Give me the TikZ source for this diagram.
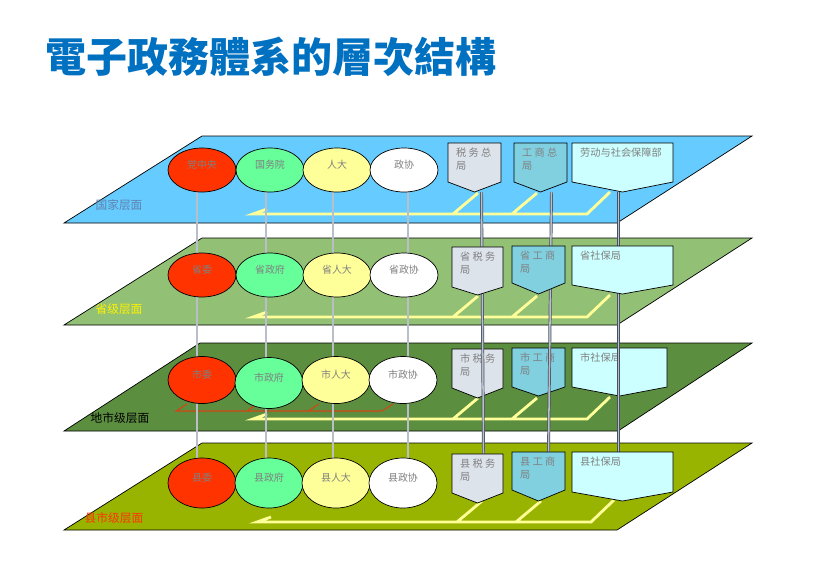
\documentclass[tikz,border=0pt]{standalone}
\usepackage{fontspec}
\newfontfamily\cjk{Noto Sans CJK SC}
\newfontfamily\cjktc{Noto Sans CJK TC}
\usetikzlibrary{shapes.geometric}

\definecolor{plane1}{RGB}{102,204,255}
\definecolor{plane2}{RGB}{146,192,116}
\definecolor{plane3}{RGB}{92,142,64}
\definecolor{plane4}{RGB}{153,180,0}
\definecolor{orgred}{RGB}{255,51,0}
\definecolor{orggreen}{RGB}{102,255,153}
\definecolor{orgyellow}{RGB}{255,255,153}
\definecolor{bur1}{RGB}{221,227,235}
\definecolor{bur2}{RGB}{128,208,224}
\definecolor{bur3}{RGB}{204,255,255}
\definecolor{railyellow}{RGB}{255,255,153}
\definecolor{railred}{RGB}{210,70,20}
\definecolor{titleblue}{RGB}{0,112,192}
\definecolor{txtgray}{RGB}{128,128,128}
\definecolor{pipegray}{RGB}{70,80,100}
\definecolor{pipelight}{RGB}{185,190,200}

\pgfdeclarelayer{back}
\pgfdeclarelayer{mid}
\pgfsetlayers{back,mid,main}

\tikzset{
  plane/.style={draw=black, line width=0.6pt},
  org/.style={ellipse, draw=black, line width=0.6pt, minimum width=2.04cm,
    minimum height=1.32cm, inner sep=0pt, text=txtgray,
    font=\cjk\fontsize{8.5}{10}\selectfont, text height=0.8em, text depth=1.1em},
  burline/.style={draw=black, line width=0.6pt},
  burtxt/.style={anchor=north west, inner sep=0pt, align=left, text=txtgray,
    font=\cjk\fontsize{8.7}{11}\selectfont},
  pipe/.style={draw=pipegray, line width=0.6pt, double=pipelight, double distance=1.3pt},
  rail/.style={draw=railyellow, line width=2.4pt},
  redrail/.style={draw=railred, line width=0.9pt},
  level/.style={inner sep=0pt, font=\cjk\fontsize{10}{12}\selectfont},
}

% bureau box: name, left, right, top, side, tip, fill, text
\newcommand\bureau[8]{%
  \draw[burline, fill=#7] (#2,#4) coordinate (#1-nw) -- (#3,#4) -- (#3,#5)
    -- ({(#2+#3)/2},#6) coordinate (#1) -- (#2,#5) -- cycle;
  \coordinate (#1-n) at ({(#2+#3)/2},#4);
  \node[burtxt] (#1-t) at ([shift={(8,5)}]#1-nw) {#8};
}

\begin{document}
\begin{tikzpicture}[x=0.03cm, y=-0.03cm]
  \useasboundingbox (0,0) rectangle (824,579);

  % title
  \node[anchor=west, inner sep=0pt, text=titleblue,
    font=\cjktc\bfseries\fontsize{35}{40}\selectfont] (title) at (45,57) {電子政務體系的層次結構};

  \begin{pgfonlayer}{back}
    \fill[white] (0,0) rectangle (824,579);
    \draw[plane, fill=plane1] (202,136) -- (752,136) -- (617,223) -- (64,223) -- cycle;
    \draw[plane, fill=plane2] (202,238) -- (752,238) -- (617,325) -- (64,325) -- cycle;
    \draw[plane, fill=plane3] (200,343) -- (752,343) -- (618,431) -- (64,431) -- cycle;
    \draw[plane, fill=plane4] (202,443) -- (752,443) -- (617,530) -- (64,530) -- cycle;

    % rails
    \foreach \y/\dx in {214/0, 317/0, 419/0, 522/4}
      \draw[rail, xshift=\dx*0.03cm] (267,\y-5) -- (253,\y) -- (587,\y) -- (610,\y-22)
        (453,\y) -- (478,\y-21) (512,\y) -- (537,\y-21);
    \draw[redrail] (187,404) -- (176,411) -- (382,411) -- (393,404)
      (247,411) -- (257,404) (308,411) -- (319,404);

    % city bureaus sit under the pipes
    \bureau{s3}{452}{503}{349}{388}{398}{bur1}{市 税 务\\局}
    \bureau{c3}{512}{565}{348}{387}{396}{bur2}{市 工 商\\局}
    \bureau{b3}{572}{667}{348}{387}{396}{bur3}{市社保局}
  \end{pgfonlayer}

  \begin{scope}[every node/.style={org}]
    \node[fill=orgred]    (p1) at (202,170) {党中央};
    \node[fill=orggreen]  (g1) at (270,170) {国务院};
    \node[fill=orgyellow] (r1) at (337,170) {人大};
    \node[fill=white]     (z1) at (404,170) {政协};

    \node[fill=orgred]    (p2) at (202,275) {省委};
    \node[fill=orggreen]  (g2) at (270,275) {省政府};
    \node[fill=orgyellow] (r2) at (337,275) {省人大};
    \node[fill=white]     (z2) at (404,275) {省政协};

    \node[fill=orgred, minimum height=1.41cm]    (p3) at (202,380) {市委};
    \node[fill=orggreen, minimum height=1.53cm]  (g3) at (269,383) {市政府};
    \node[fill=orgyellow, minimum height=1.41cm] (r3) at (336,380) {市人大};
    \node[fill=white, minimum height=1.41cm]     (z3) at (403,380) {市政协};

    \node[fill=orgred, minimum height=1.5cm]    (p4) at (202,483) {县委};
    \node[fill=orggreen, minimum height=1.5cm]  (g4) at (269,483) {县政府};
    \node[fill=orgyellow, minimum height=1.5cm] (r4) at (336,483) {县人大};
    \node[fill=white, minimum height=1.5cm]     (z4) at (403,483) {县政协};
  \end{scope}

  \bureau{s1}{448}{501}{143}{182}{192}{bur1}{税 务 总\\局}
  \bureau{c1}{514}{567}{143}{182}{192}{bur2}{工 商 总\\局}
  \bureau{b1}{572}{673}{143}{182}{192}{bur3}{劳动与社会保障部}

  \bureau{s2}{452}{503}{247}{287}{295}{bur1}{省 税 务\\局}
  \bureau{c2}{512}{565}{246}{283}{294}{bur2}{省 工 商\\局}
  \bureau{b2}{572}{673}{246}{285}{294}{bur3}{省社保局}

  \bureau{s4}{452}{503}{454}{493}{503}{bur1}{县 税 务\\局}
  \bureau{c4}{512}{565}{452}{490}{501}{bur2}{县 工 商\\局}
  \bureau{b4}{572}{673}{452}{492}{501}{bur3}{县社保局}

  % level names
  \node[level, text={rgb,255:red,95;green,130;blue,175}] (lv1) at (119,205) {国家层面};
  \node[level, text=yellow] (lv2) at (119,309) {省级层面};
  \node[level, text=black] (lv3) at (120,418) {地市级层面};
  \node[level, text=orgred] (lv4) at (114,518) {县市级层面};

  % pipes between the levels
  \begin{pgfonlayer}{mid}
    \draw[pipe] ([xshift=-0.15cm]p1.south) -- ([xshift=-0.15cm]p4.north);
    \draw[pipe] ([xshift=-0.12cm]g1.south) -- ([xshift=-0.09cm]g4.north);
    \draw[pipe] ([xshift=-0.12cm]r1.south) -- ([xshift=-0.09cm]r4.north);
    \draw[pipe] ([xshift=0.12cm]z1.south) -- ([xshift=0.15cm]z4.north);
    \draw[pipe] ([xshift=0.21cm]s1) -- ([xshift=0.18cm]s4-n);
    \draw[pipe] ([xshift=0.33cm]c1) -- ([xshift=0.3cm]c4-n);
    \draw[pipe] ([xshift=-0.12cm]b1) -- ([xshift=-0.12cm]b4-n);
  \end{pgfonlayer}
\end{tikzpicture}
\end{document}
